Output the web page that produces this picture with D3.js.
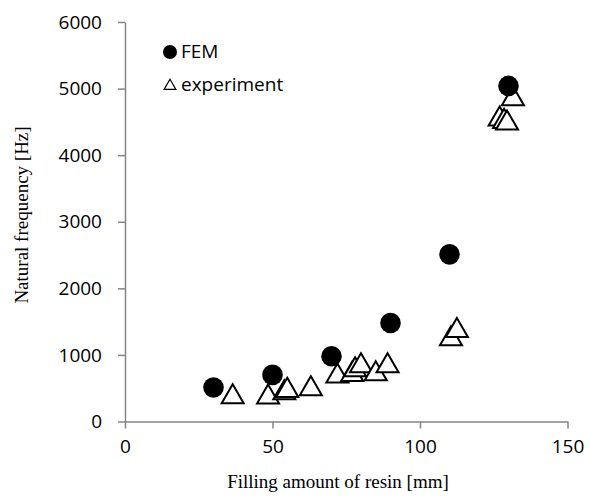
<!DOCTYPE html>
<html>
<head>
<meta charset="utf-8">
<script src="https://cdn.jsdelivr.net/npm/d3@7"></script>
<style>
  body { margin: 0; background: #fff; }
  .axis path, .axis line { stroke: #868686; stroke-width: 1.5; }
  .axis text { font-family: "Open Sans", Lato, sans-serif; font-size: 19px; fill: #000; }
  .title { font-family: "Liberation Serif", "Times New Roman", serif; font-size: 19px; fill: #000; }
  .legend { font-family: "Open Sans", Lato, sans-serif; font-size: 19px; fill: #000; }
</style>
</head>
<body>
<svg id="chart" width="590" height="502"></svg>
<script>
// FEM results
var femX = [30, 50, 70, 90, 110, 130];
var femY = [510, 700, 980, 1480, 2510, 5040];

// measured values
var expX = [36.5, 48.5, 54, 55, 63, 72, 77, 78, 80, 85, 89, 110.5, 112.5, 127, 128.5, 129.5, 131.5];
var expY = [415, 410, 475, 510, 535, 725, 750, 820, 880, 760, 880, 1285, 1410, 4585, 4550, 4525, 4890];

var xTicks = [0, 50, 100, 150];
var yTicks = [0, 1000, 2000, 3000, 4000, 5000, 6000];

var svg = d3.select("#chart");

var xScale = d3.scaleLinear()
    .domain([0, 150])
    .range([125, 567.5]);

var yScale = d3.scaleLinear()
    .domain([0, 6000])
    .range([421.5, 22]);

// y axis
svg.append("g")
    .attr("class", "axis")
    .attr("transform", "translate(125,0)")
    .call(d3.axisLeft(yScale).tickValues(yTicks).tickFormat(d3.format("d"))
        .tickSize(7).tickSizeOuter(0).tickPadding(16));

// x axis
svg.append("g")
    .attr("class", "axis")
    .attr("transform", "translate(0,421.5)")
    .call(d3.axisBottom(xScale).tickValues(xTicks).tickSize(7).tickSizeOuter(0).tickPadding(11));

// axis titles
svg.append("text")
    .attr("class", "title")
    .attr("x", 338)
    .attr("y", 488)
    .attr("text-anchor", "middle")
    .text("Filling amount of resin [mm]");

svg.append("text")
    .attr("class", "title")
    .attr("transform", "translate(28,215) rotate(-90)")
    .attr("text-anchor", "middle")
    .text("Natural frequency [Hz]");

var tri = d3.symbol().type(d3.symbolTriangle).size(210);

// triangles first, circles go on top
svg.selectAll(".tri")
    .data(expX)
  .enter().append("path")
    .attr("class", "tri")
    .attr("d", tri)
    .attr("transform", function(d, i) { return "translate(" + xScale(d) + "," + (yScale(expY[i]) + 3) + ")"; })
    .attr("fill", "#fff")
    .attr("stroke", "#000")
    .attr("stroke-width", 2);

svg.selectAll(".dot")
    .data(femX)
  .enter().append("circle")
    .attr("class", "dot")
    .attr("cx", function(d) { return xScale(d); })
    .attr("cy", function(d, i) { return yScale(femY[i]); })
    .attr("r", 10.3)
    .attr("fill", "#000");

// legend
svg.append("circle")
    .attr("cx", 170)
    .attr("cy", 52)
    .attr("r", 7)
    .attr("fill", "#000");
svg.append("text")
    .attr("class", "legend")
    .attr("x", 181)
    .attr("y", 58)
    .text("FEM");

svg.append("path")
    .attr("d", d3.symbol().type(d3.symbolTriangle).size(60))
    .attr("transform", "translate(170,86)")
    .attr("fill", "none")
    .attr("stroke", "#000")
    .attr("stroke-width", 1.2);
svg.append("text")
    .attr("class", "legend")
    .attr("x", 181)
    .attr("y", 91)
    .text("experiment");
</script>
</body>
</html>
